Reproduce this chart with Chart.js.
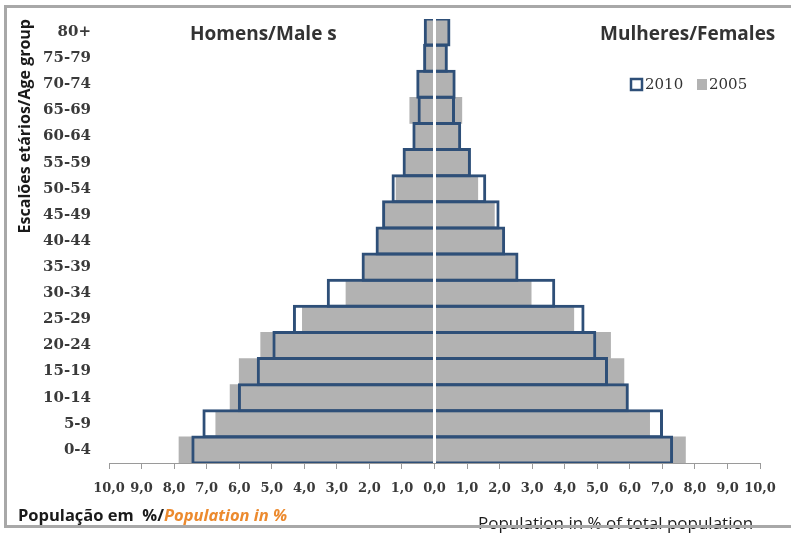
<!DOCTYPE html>
<html>
<head>
<meta charset="utf-8">
<script src="https://cdn.jsdelivr.net/npm/chart.js@4/dist/chart.umd.min.js"></script>
<style>
  html, body { margin: 0; padding: 0; background: #fff; }
  #wrap { position: relative; width: 791px; height: 534px; }
</style>
</head>
<body>
<div id="wrap"><canvas id="piramide" width="791" height="534"></canvas></div>
<script>
// grupos etários, de cima para baixo
const gruposEtarios = ['80+', '75-79', '70-74', '65-69', '60-64', '55-59', '50-54', '45-49',
    '40-44', '35-39', '30-34', '25-29', '20-24', '15-19', '10-14', '5-9', '0-4'];

// % da população total
const homens2010 = [0.33, 0.35, 0.56, 0.52, 0.68, 0.98, 1.32, 1.61, 1.81, 2.24, 3.31, 4.35, 4.98, 5.46, 6.04, 7.13, 7.47];
const mulheres2010 = [0.49, 0.41, 0.65, 0.63, 0.82, 1.12, 1.59, 2.00, 2.17, 2.58, 3.71, 4.61, 4.97, 5.33, 5.97, 7.02, 7.33];
const homens2005 = [0.29, 0.29, 0.52, 0.76, 0.64, 0.93, 1.18, 1.54, 1.75, 2.18, 2.72, 4.06, 5.34, 6.00, 6.28, 6.72, 7.85];
const mulheres2005 = [0.42, 0.34, 0.59, 0.84, 0.78, 1.04, 1.33, 1.84, 2.10, 2.50, 2.97, 4.28, 5.41, 5.82, 5.92, 6.61, 7.71];

const eixoMin = -10;
const eixoMax = 10;
const passo = 1;

const azul = '#2e4f78';
const cinza = '#b2b2b2';
const serif = "'DejaVu Serif', serif";
const sans = "'Open Sans', sans-serif";

// textos fixos, linha branca no zero e moldura
const anotacoes = {
    id: 'anotacoes',
    afterDatasetsDraw(chart) {
        const ctx = chart.ctx;
        const x0 = chart.scales.x.getPixelForValue(0);
        const area = chart.chartArea;
        ctx.save();
        ctx.strokeStyle = '#ffffff';
        ctx.lineWidth = 3;
        ctx.beginPath();
        ctx.moveTo(x0, area.top - 2);
        ctx.lineTo(x0, area.bottom);
        ctx.stroke();
        ctx.restore();
    },
    afterDraw(chart) {
        const ctx = chart.ctx;
        const ds = chart.data.datasets;
        ctx.save();

        ctx.fillStyle = '#333333';
        ctx.textBaseline = 'alphabetic';
        ctx.font = 'bold 19px ' + sans;
        ctx.fillText('Homens/Male s', 190, 40);
        ctx.fillText('Mulheres/Females', 600, 40);

        // legenda
        ctx.lineWidth = 2.5;
        ctx.strokeStyle = ds[0].borderColor;
        ctx.fillStyle = '#ffffff';
        ctx.fillRect(631, 79, 11, 11);
        ctx.strokeRect(631, 79, 11, 11);
        ctx.fillStyle = ds[2].backgroundColor;
        ctx.fillRect(697, 79, 10, 11);
        ctx.fillStyle = '#333333';
        ctx.font = '15px ' + serif;
        ctx.textBaseline = 'middle';
        ctx.fillText(ds[0].label, 645, 85);
        ctx.fillText(ds[2].label, 709, 85);

        // rodapé
        ctx.textBaseline = 'alphabetic';
        ctx.font = 'bold 16.5px ' + sans;
        ctx.fillStyle = '#1a1a1a';
        const parte1 = 'População em  %/';
        ctx.fillText(parte1, 18, 521);
        const w1 = ctx.measureText(parte1).width;
        ctx.font = 'italic bold 16.5px ' + sans;
        ctx.fillStyle = '#ec8a2e';
        ctx.fillText('Population in %', 18 + w1, 521);

        ctx.font = '17px ' + sans;
        ctx.fillStyle = '#1a1a1a';
        ctx.fillText('Population in % of total population', 478, 529);

        ctx.strokeStyle = '#a8a8a8';
        ctx.lineWidth = 3;
        ctx.strokeRect(5.5, 6.5, 820, 520);
        ctx.restore();
    }
};

const ctx = document.getElementById('piramide').getContext('2d');

new Chart(ctx, {
    type: 'bar',
    data: {
        labels: gruposEtarios,
        datasets: [
            { label: '2010', data: homens2010.map(v => -v), backgroundColor: 'rgba(0,0,0,0)', borderColor: azul, borderWidth: 3, borderSkipped: 'start', barPercentage: 1.114 },
            { label: '2010', data: mulheres2010, backgroundColor: 'rgba(0,0,0,0)', borderColor: azul, borderWidth: 3, borderSkipped: 'start', barPercentage: 1.114 },
            { label: '2005', data: homens2005.map(v => -v), backgroundColor: cinza, borderWidth: 0, barPercentage: 1.0 },
            { label: '2005', data: mulheres2005, backgroundColor: cinza, borderWidth: 0, barPercentage: 1.0 }
        ]
    },
    options: {
        indexAxis: 'y',
        responsive: false,
        animation: false,
        datasets: { bar: { grouped: false, categoryPercentage: 1.0 } },
        layout: { padding: { left: 12, right: 31, top: 17, bottom: 0 } },
        scales: {
            x: {
                min: eixoMin,
                max: eixoMax,
                afterFit: (s) => { s.height = 71; },
                ticks: {
                    stepSize: passo,
                    autoSkip: false,
                    maxRotation: 0,
                    padding: 12,
                    color: '#3a3a3a',
                    font: { family: serif, size: 13, weight: 'bold' },
                    callback: (v) => Math.abs(v).toFixed(1).replace('.', ',')
                },
                grid: { drawOnChartArea: false, drawTicks: true, tickLength: 6, color: '#9a9a9a' },
                border: { display: true, color: '#9a9a9a', width: 1 }
            },
            y: {
                afterFit: (s) => { s.width = 97; },
                ticks: { padding: 10, color: '#3a3a3a', font: { family: serif, size: 15, weight: 'bold' } },
                grid: { display: false },
                border: { display: false },
                title: {
                    display: true,
                    text: 'Escalões etários/Age group',
                    align: 'end',
                    color: '#1a1a1a',
                    font: { family: sans, size: 16, weight: 'bold' }
                }
            }
        },
        plugins: {
            legend: { display: false },
            tooltip: { enabled: false }
        }
    },
    plugins: [anotacoes]
});
</script>
</body>
</html>
